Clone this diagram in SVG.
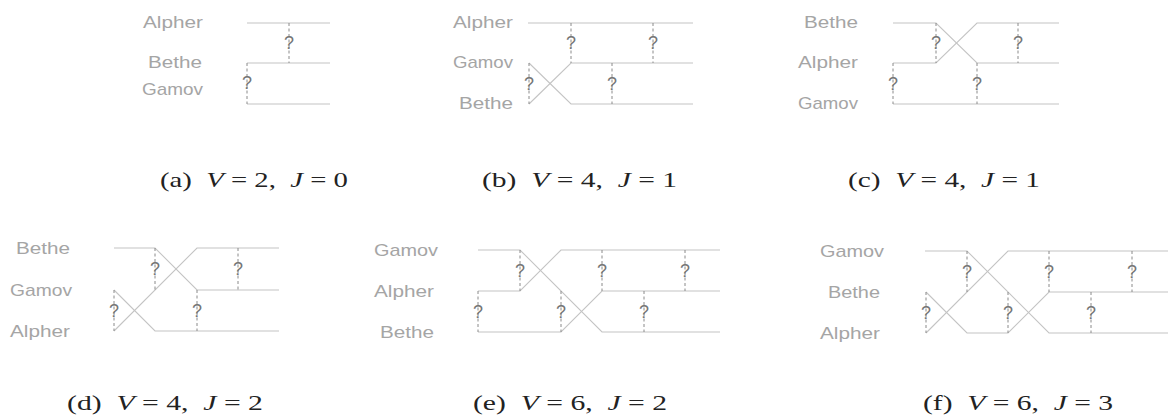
<svg xmlns="http://www.w3.org/2000/svg" width="1168" height="418" viewBox="0 0 1168 418">
<style>
.bg{fill:#ffffff}
.ln{fill:none;stroke:#c4c4c4;stroke-width:1.1;stroke-linejoin:miter}
.dl{fill:none;stroke:#8a8a8a;stroke-width:1;stroke-dasharray:3 2.5}
.q{font-family:"Liberation Sans","DejaVu Sans",sans-serif;font-size:18px;fill:#757575;text-anchor:middle}
.lb{font-family:"Liberation Sans",Arial,sans-serif;font-size:17px;fill:#a5a5a5;text-anchor:end}
.cap{font-family:"Liberation Serif","Times New Roman",serif;font-size:22px;fill:#222222}
.it{font-style:italic}
</style>
<rect class="bg" x="0" y="0" width="1168" height="418"/>

<!-- Panel a -->
<g id="panel-a">
  <g id="a-labels">
    <text class="lb" x="203" y="28" textLength="60" lengthAdjust="spacingAndGlyphs">Alpher</text>
    <text class="lb" x="202" y="68" textLength="54" lengthAdjust="spacingAndGlyphs">Bethe</text>
    <text class="lb" x="203" y="95" textLength="61" lengthAdjust="spacingAndGlyphs">Gamov</text>
  </g>
  <g id="a-connectors">
    <path class="ln" d="M247 23H330"/>
    <path class="ln" d="M247 63H330"/>
    <path class="ln" d="M247 104H330"/>
    <path class="dl" d="M289 23V63"/>
    <path class="dl" d="M247 63V104"/>
  </g>
  <g id="a-q">
    <text class="q" x="289" y="49">?</text>
    <text class="q" x="247" y="89">?</text>
  </g>
  <text class="cap" x="160" y="187" textLength="188" lengthAdjust="spacingAndGlyphs" xml:space="preserve">(a)  <tspan class="it">V</tspan> = 2,  <tspan class="it">J</tspan> = 0</text>
</g>

<!-- Panel b -->
<g id="panel-b">
  <g id="b-labels">
    <text class="lb" x="513" y="28" textLength="60" lengthAdjust="spacingAndGlyphs">Alpher</text>
    <text class="lb" x="513" y="68" textLength="60" lengthAdjust="spacingAndGlyphs">Gamov</text>
    <text class="lb" x="513" y="109" textLength="54" lengthAdjust="spacingAndGlyphs">Bethe</text>
  </g>
  <g id="b-connectors">
    <path class="ln" d="M528 23H693"/>
    <path class="ln" d="M529 104L571 63H693"/>
    <path class="ln" d="M529 63L571 104H693"/>
    <path class="dl" d="M529 63V104"/>
    <path class="dl" d="M571 23V63"/>
    <path class="dl" d="M653 23V63"/>
    <path class="dl" d="M612 63V104"/>
  </g>
  <g id="b-q">
    <text class="q" x="529" y="90">?</text>
    <text class="q" x="571" y="49">?</text>
    <text class="q" x="653" y="49">?</text>
    <text class="q" x="612" y="90">?</text>
  </g>
  <text class="cap" x="482" y="187" textLength="195" lengthAdjust="spacingAndGlyphs" xml:space="preserve">(b)  <tspan class="it">V</tspan> = 4,  <tspan class="it">J</tspan> = 1</text>
</g>

<!-- Panel c -->
<g id="panel-c">
  <g id="c-labels">
    <text class="lb" x="858" y="28" textLength="54" lengthAdjust="spacingAndGlyphs">Bethe</text>
    <text class="lb" x="858" y="68" textLength="60" lengthAdjust="spacingAndGlyphs">Alpher</text>
    <text class="lb" x="858" y="109" textLength="60" lengthAdjust="spacingAndGlyphs">Gamov</text>
  </g>
  <g id="c-connectors">
    <path class="ln" d="M893 23H936L977 63H1059"/>
    <path class="ln" d="M893 63H936L977 23H1059"/>
    <path class="ln" d="M893 104H1059"/>
    <path class="dl" d="M936 23V63"/>
    <path class="dl" d="M893 63V104"/>
    <path class="dl" d="M977 63V104"/>
    <path class="dl" d="M1018 23V63"/>
  </g>
  <g id="c-q">
    <text class="q" x="936" y="49">?</text>
    <text class="q" x="893" y="90">?</text>
    <text class="q" x="977" y="90">?</text>
    <text class="q" x="1018" y="49">?</text>
  </g>
  <text class="cap" x="848" y="187" textLength="192" lengthAdjust="spacingAndGlyphs" xml:space="preserve">(c)  <tspan class="it">V</tspan> = 4,  <tspan class="it">J</tspan> = 1</text>
</g>

<!-- Panel d -->
<g id="panel-d">
  <g id="d-labels">
    <text class="lb" x="70" y="254" textLength="54" lengthAdjust="spacingAndGlyphs">Bethe</text>
    <text class="lb" x="72" y="296" textLength="62" lengthAdjust="spacingAndGlyphs">Gamov</text>
    <text class="lb" x="70" y="337" textLength="60" lengthAdjust="spacingAndGlyphs">Alpher</text>
  </g>
  <g id="d-connectors">
    <path class="ln" d="M114 248H155L197 290H279"/>
    <path class="ln" d="M114 290L155 331H279"/>
    <path class="ln" d="M114 331L197 248H279"/>
    <path class="dl" d="M155 248V290"/>
    <path class="dl" d="M238 248V290"/>
    <path class="dl" d="M114 290V331"/>
    <path class="dl" d="M197 290V331"/>
  </g>
  <g id="d-q">
    <text class="q" x="155" y="275">?</text>
    <text class="q" x="238" y="275">?</text>
    <text class="q" x="114" y="317">?</text>
    <text class="q" x="197" y="317">?</text>
  </g>
  <text class="cap" x="67" y="410" textLength="196" lengthAdjust="spacingAndGlyphs" xml:space="preserve">(d)  <tspan class="it">V</tspan> = 4,  <tspan class="it">J</tspan> = 2</text>
</g>

<!-- Panel e -->
<g id="panel-e">
  <g id="e-labels">
    <text class="lb" x="438" y="256" textLength="64" lengthAdjust="spacingAndGlyphs">Gamov</text>
    <text class="lb" x="434" y="297" textLength="60" lengthAdjust="spacingAndGlyphs">Alpher</text>
    <text class="lb" x="434" y="338" textLength="54" lengthAdjust="spacingAndGlyphs">Bethe</text>
  </g>
  <g id="e-connectors">
    <path class="ln" d="M478 250H520L602 332H720"/>
    <path class="ln" d="M478 291H520L561 250H720"/>
    <path class="ln" d="M478 332H561L602 291H720"/>
    <path class="dl" d="M520 250V291"/>
    <path class="dl" d="M602 250V291"/>
    <path class="dl" d="M685 250V291"/>
    <path class="dl" d="M478 291V332"/>
    <path class="dl" d="M561 291V332"/>
    <path class="dl" d="M644 291V332"/>
  </g>
  <g id="e-q">
    <text class="q" x="520" y="277">?</text>
    <text class="q" x="602" y="277">?</text>
    <text class="q" x="685" y="277">?</text>
    <text class="q" x="478" y="318">?</text>
    <text class="q" x="561" y="318">?</text>
    <text class="q" x="644" y="318">?</text>
  </g>
  <text class="cap" x="473" y="410" textLength="194" lengthAdjust="spacingAndGlyphs" xml:space="preserve">(e)  <tspan class="it">V</tspan> = 6,  <tspan class="it">J</tspan> = 2</text>
</g>

<!-- Panel f -->
<g id="panel-f">
  <g id="f-labels">
    <text class="lb" x="884" y="257" textLength="64" lengthAdjust="spacingAndGlyphs">Gamov</text>
    <text class="lb" x="880" y="298" textLength="52" lengthAdjust="spacingAndGlyphs">Bethe</text>
    <text class="lb" x="880" y="339" textLength="60" lengthAdjust="spacingAndGlyphs">Alpher</text>
  </g>
  <g id="f-connectors">
    <path class="ln" d="M925 251H967L1049 333H1168"/>
    <path class="ln" d="M926 292L967 333H1008L1049 292H1168"/>
    <path class="ln" d="M926 333L1008 251H1168"/>
    <path class="dl" d="M967 251V292"/>
    <path class="dl" d="M1049 251V292"/>
    <path class="dl" d="M1132 251V292"/>
    <path class="dl" d="M926 292V333"/>
    <path class="dl" d="M1008 292V333"/>
    <path class="dl" d="M1091 292V333"/>
  </g>
  <g id="f-q">
    <text class="q" x="967" y="278">?</text>
    <text class="q" x="1049" y="278">?</text>
    <text class="q" x="1132" y="278">?</text>
    <text class="q" x="926" y="319">?</text>
    <text class="q" x="1008" y="319">?</text>
    <text class="q" x="1091" y="319">?</text>
  </g>
  <text class="cap" x="923" y="410" textLength="190" lengthAdjust="spacingAndGlyphs" xml:space="preserve">(f)  <tspan class="it">V</tspan> = 6,  <tspan class="it">J</tspan> = 3</text>
</g>
</svg>
